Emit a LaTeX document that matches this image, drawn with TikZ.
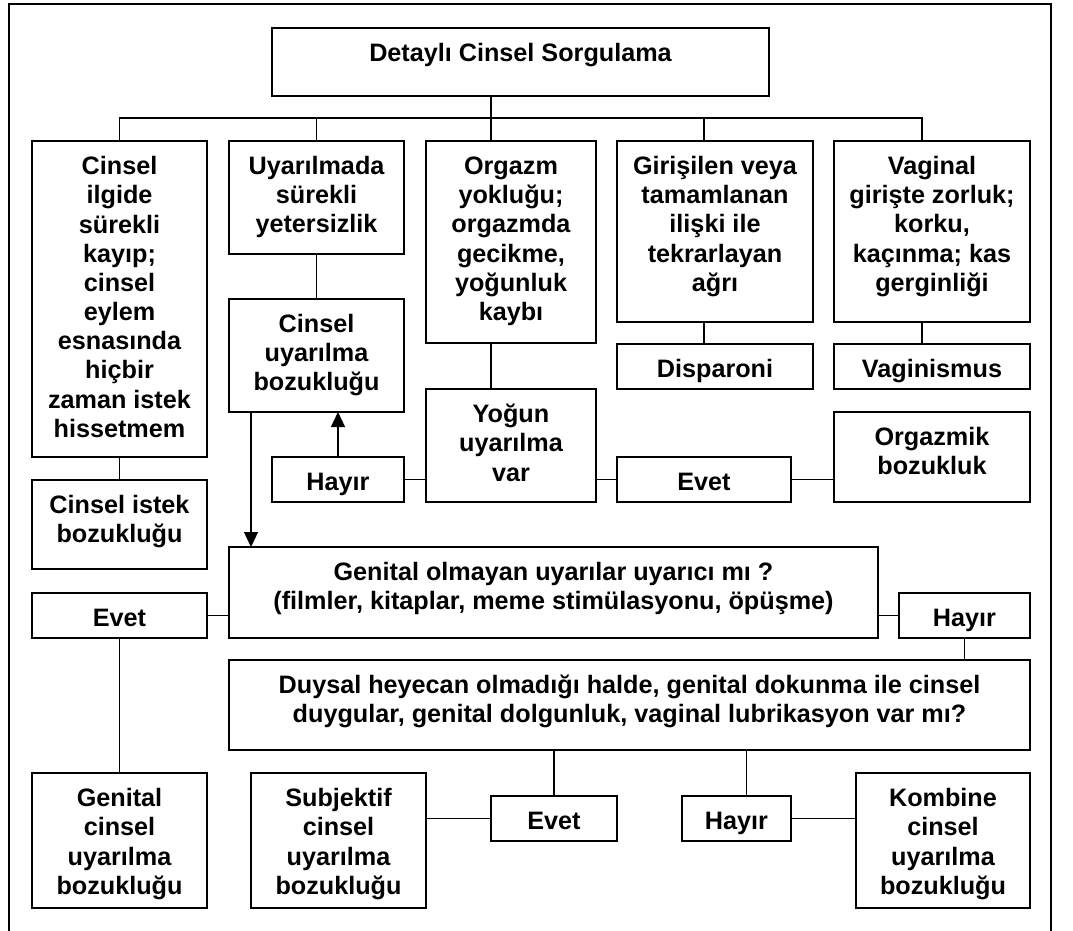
\documentclass[tikz,border=0pt]{standalone}
\usepackage{fontspec}
\setmainfont{Liberation Sans}
\usetikzlibrary{arrows.meta}
\newdimen\pxu \pxu=0.5pt
\newcommand\boxtext[3]{\parbox[c][#2\pxu][t]{#1\pxu}{\centering\rule{0pt}{16.8pt}#3\par}}
\tikzset{
  box/.style={draw, line width=1pt, inner sep=0pt, outer sep=0pt, anchor=north west, font=\bfseries\fontsize{12.6}{14.6}\selectfont},
  link/.style={line width=0.65pt},
  arrow/.style={link, -{Triangle[length=7.5pt,width=7pt]}},
  frame/.style={line width=0.8pt}
}
\begin{document}
\begin{tikzpicture}[x=0.5pt, y=-0.5pt]
  \useasboundingbox (0,0) rectangle (1073,931);
  \draw[frame] (9,931) |- (1051,4) -- (1051,931);

  \node[box] (query) at (272,28) {\boxtext{497}{68}{Detaylı Cinsel Sorgulama}};
  \node[box] (desire) at (32,141) {\boxtext{175}{316}{Cinsel\\ilgide\\sürekli\\kayıp;\\cinsel\\eylem\\esnasında\\hiçbir\\zaman istek\\hissetmem}};
  \node[box] (arousal) at (229,141) {\boxtext{175}{113}{Uyarılmada\\sürekli\\yetersizlik}};
  \node[box] (orgasm) at (426,141) {\boxtext{170}{202}{Orgazm\\yokluğu;\\orgazmda\\gecikme,\\yoğunluk\\kaybı}};
  \node[box] (pain) at (617,141) {\boxtext{196}{181}{Girişilen veya\\tamamlanan\\ilişki ile\\tekrarlayan\\ağrı}};
  \node[box] (vagin) at (834,141) {\boxtext{196}{181}{Vaginal\\girişte zorluk;\\korku,\\kaçınma; kas\\gerginliği}};
  \node[box] (arousalDis) at (229,299) {\boxtext{175}{113}{Cinsel\\uyarılma\\bozukluğu}};
  \node[box] (dyspar) at (617,344) {\boxtext{196}{45}{Disparoni}};
  \node[box] (vaginism) at (834,344) {\boxtext{196}{45}{Vaginismus}};
  \node[box] (intense) at (426,389) {\boxtext{170}{113}{Yoğun\\uyarılma\\var}};
  \node[box] (noA) at (272,457) {\boxtext{132}{45}{Hayır}};
  \node[box] (yesA) at (617,457) {\boxtext{174}{45}{Evet}};
  \node[box] (orgDis) at (834,412) {\boxtext{196}{90}{Orgazmik\\bozukluk}};
  \node[box] (desireDis) at (32,480) {\boxtext{175}{89}{Cinsel istek\\bozukluğu}};
  \node[box] (nongen) at (229,547) {\boxtext{649}{91}{Genital olmayan uyarılar uyarıcı mı ?\\(filmler, kitaplar, meme stimülasyonu, öpüşme)}};
  \node[box] (yesB) at (32,593) {\boxtext{175}{45}{Evet}};
  \node[box] (noB) at (899,593) {\boxtext{131}{45}{Hayır}};
  \node[box] (touch) at (229,660) {\boxtext{801}{90}{Duysal heyecan olmadığı halde, genital dokunma ile cinsel\\duygular, genital dolgunluk, vaginal lubrikasyon var mı?}};
  \node[box] (genDis) at (32,773) {\boxtext{175}{135}{Genital\\cinsel\\uyarılma\\bozukluğu}};
  \node[box] (subj) at (251,773) {\boxtext{175}{135}{Subjektif\\cinsel\\uyarılma\\bozukluğu}};
  \node[box] (yesC) at (491,796) {\boxtext{126}{45}{Evet}};
  \node[box] (noC) at (682,796) {\boxtext{109}{45}{Hayır}};
  \node[box] (comb) at (856,773) {\boxtext{174}{135}{Kombine\\cinsel\\uyarılma\\bozukluğu}};

  % bus under the title
  \coordinate (hub) at (491,118);
  \coordinate (hubP) at (704,118);
  \coordinate (hubV) at (922,118);
  \draw[link] (query.south -| hub) -- (hub);
  \draw[link] (desire.north) |- (hubV) -- (vagin.north -| hubV);
  \draw[link] (arousal.north) -- (arousal.north |- hub);
  \draw[link] (hub) -- (orgasm.north -| hub);
  \draw[link] (hubP) -- (pain.north -| hubP);

  \draw[link] (desire) -- (desireDis);
  \draw[link] (arousal) -- (arousalDis);
  \draw[link] (orgasm.south -| hub) -- (intense.north -| hub);
  \draw[link] (pain.south -| hubP) -- (dyspar.north -| hubP);
  \draw[link] (vagin.south -| hubV) -- (vaginism.north -| hubV);
  \draw[link] (noA.east) -- (noA.east -| intense.west);
  \draw[link] (intense.east |- yesA) -- (yesA.west);
  \draw[link] (yesA.east) -- (yesA.east -| orgDis.west);
  \draw[arrow] (noA.north) -- (noA.north |- arousalDis.south);
  \draw[arrow] ([xshift=11pt]arousalDis.south west) -- ([xshift=11pt]arousalDis.south west |- nongen.north);

  \draw[link] (yesB.east) -- (yesB.east -| nongen.west);
  \draw[link] (nongen.east |- noB) -- (noB.west);
  \draw[link] (noB.south) -- (noB.south |- touch.north);
  \draw[link] (yesB) -- (genDis);
  \draw[link] (yesC.north |- touch.south) -- (yesC.north);
  \draw[link] ([xshift=5pt]noC.north |- touch.south) -- ([xshift=5pt]noC.north);
  \draw[link] (yesC.west -| subj.east) -- (yesC.west);
  \draw[link] (noC.east) -- (noC.east -| comb.west);
\end{tikzpicture}
\end{document}
